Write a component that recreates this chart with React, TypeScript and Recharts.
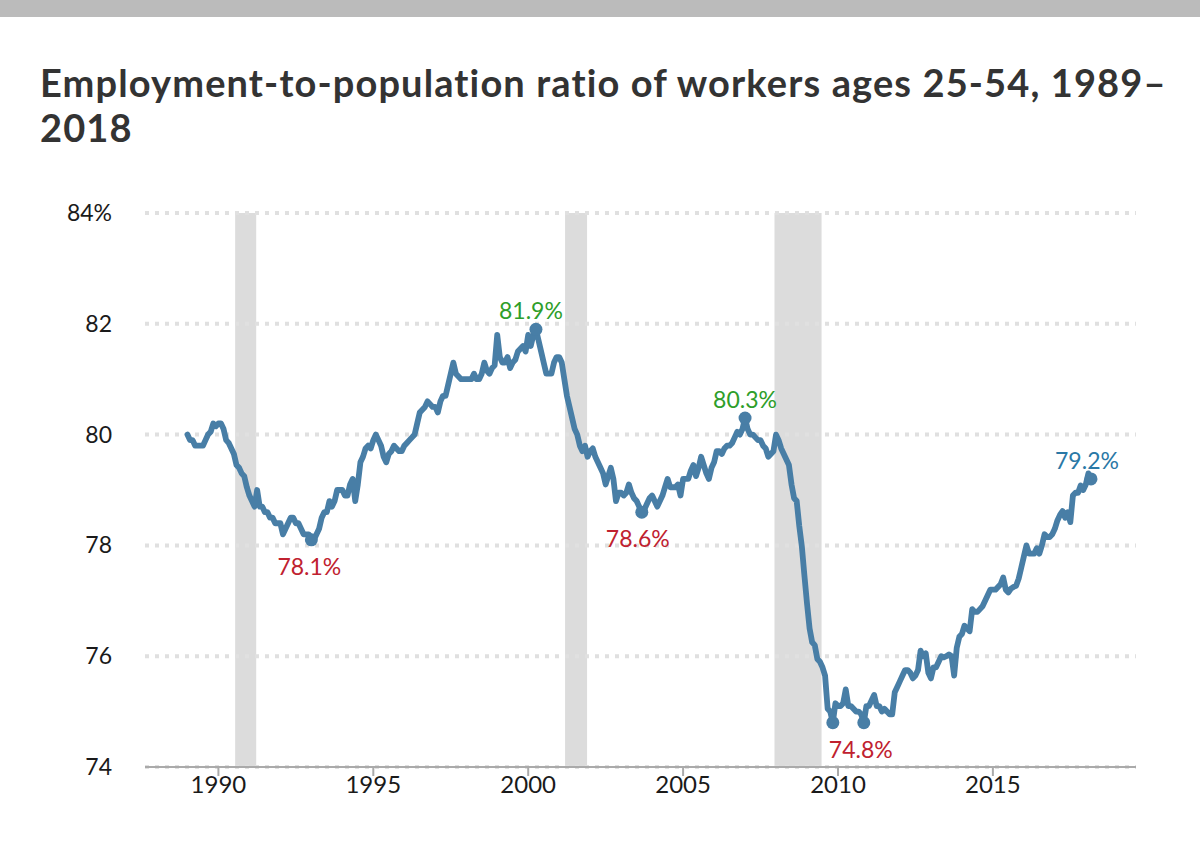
import React from 'react';
import {
  LineChart,
  Line,
  XAxis,
  YAxis,
  ReferenceArea,
  ReferenceLine,
  ReferenceDot,
} from 'recharts';

// Monthly employment-to-population ratio, ages 25-54, Jan 1989 – Mar 2018
const startYear = 1989;
const epop: number[] = [
  // 1989
  80.0, 79.9, 79.9, 79.8, 79.8, 79.8, 79.8, 79.9, 80.0, 80.05, 80.2, 80.15,
  // 1990
  80.2, 80.2, 80.1, 79.9, 79.85, 79.75, 79.65, 79.45, 79.4, 79.3, 79.25, 79.05,
  // 1991
  78.9, 78.8, 78.7, 79.0, 78.7, 78.7, 78.6, 78.6, 78.5, 78.5, 78.4, 78.4,
  // 1992
  78.4, 78.2, 78.3, 78.4, 78.5, 78.5, 78.4, 78.4, 78.3, 78.2, 78.2, 78.2,
  // 1993
  78.1, 78.1, 78.2, 78.3, 78.5, 78.6, 78.6, 78.8, 78.7, 78.8, 79.0, 79.0,
  // 1994
  79.0, 78.9, 78.9, 79.1, 79.2, 78.8, 79.1, 79.5, 79.6, 79.75, 79.8, 79.75,
  // 1995
  79.9, 80.0, 79.9, 79.8, 79.6, 79.5, 79.65, 79.7, 79.8, 79.75, 79.7, 79.7,
  // 1996
  79.8, 79.85, 79.9, 79.95, 80.0, 80.2, 80.4, 80.45, 80.5, 80.6, 80.55, 80.5,
  // 1997
  80.5, 80.4, 80.6, 80.7, 80.7, 80.9, 81.1, 81.3, 81.1, 81.05, 81.0, 81.0,
  // 1998
  81.0, 81.0, 81.0, 81.1, 81.0, 81.0, 81.1, 81.3, 81.15, 81.1, 81.2, 81.25,
  // 1999
  81.8, 81.4, 81.3, 81.3, 81.4, 81.2, 81.3, 81.35, 81.5, 81.55, 81.6, 81.5,
  // 2000
  81.8, 81.6, 81.8, 81.9, 81.7, 81.5, 81.3, 81.1, 81.1, 81.1, 81.3, 81.4,
  // 2001
  81.4, 81.3, 81.0, 80.7, 80.5, 80.3, 80.1, 80.0, 79.8, 79.7, 79.8, 79.6,
  // 2002
  79.7, 79.75, 79.6, 79.5, 79.4, 79.3, 79.1, 79.25, 79.4, 79.2, 78.8, 78.95,
  // 2003
  78.95, 78.9, 78.95, 79.1, 78.95, 78.85, 78.8, 78.7, 78.6, 78.65, 78.75, 78.85,
  // 2004
  78.9, 78.8, 78.7, 78.8, 78.9, 79.05, 79.2, 79.05, 79.05, 79.05, 79.1, 78.9,
  // 2005
  79.2, 79.2, 79.2, 79.35, 79.45, 79.25, 79.4, 79.6, 79.45, 79.3, 79.2, 79.4,
  // 2006
  79.5, 79.7, 79.7, 79.65, 79.75, 79.8, 79.8, 79.85, 79.95, 80.05, 80.0, 80.1,
  // 2007
  80.3, 80.1, 80.0, 80.0, 79.95, 79.9, 79.9, 79.8, 79.75, 79.6, 79.65, 79.7,
  // 2008
  80.0, 79.9, 79.75, 79.65, 79.55, 79.45, 79.1, 78.85, 78.8, 78.35, 77.98, 77.45,
  // 2009
  76.95, 76.5, 76.25, 76.2, 75.95, 75.9, 75.8, 75.65, 75.05, 75.0, 74.8, 75.15,
  // 2010
  75.1, 75.1, 75.15, 75.4, 75.1, 75.1, 75.05, 75.0, 75.0, 74.95, 74.8, 75.1,
  // 2011
  75.1, 75.2, 75.3, 75.1, 75.1, 75.0, 75.05, 75.0, 74.95, 74.95, 75.35, 75.45,
  // 2012
  75.55, 75.65, 75.75, 75.75, 75.7, 75.6, 75.65, 75.75, 76.1, 76.0, 76.05, 75.7,
  // 2013
  75.6, 75.8, 75.8, 75.9, 76.0, 75.98, 76.0, 76.03, 76.0, 75.65, 76.15, 76.35,
  // 2014
  76.4, 76.55, 76.5, 76.45, 76.85, 76.8, 76.8, 76.85, 76.9, 77.0, 77.1, 77.2,
  // 2015
  77.2, 77.2, 77.25, 77.3, 77.42, 77.2, 77.15, 77.22, 77.25, 77.27, 77.4, 77.6,
  // 2016
  77.8, 78.0, 77.85, 77.85, 77.85, 77.95, 77.85, 78.0, 78.2, 78.15, 78.15, 78.2,
  // 2017
  78.3, 78.45, 78.55, 78.62, 78.5, 78.6, 78.42, 78.9, 78.95, 78.95, 79.08, 79.0,
  // 2018
  79.1, 79.3, 79.2,
];

const xTicks = [1990, 1995, 2000, 2005, 2010, 2015];
const yTicks = [74, 76, 78, 80, 82, 84];

// Recessions (start, end) in fractional years
const recessions: [number, number][] = [
  [1990.54, 1991.22],
  [2001.19, 2001.9],
  [2007.95, 2009.47],
];

const RED = '#c0212f';
const GREEN = '#2e9e2a';
const BLUE = '#2a78a6';
const annotations: { year: number; month: number; text: string; color: string; side: 'above' | 'below'; dx: number; showLabel: boolean }[] = [
  { year: 1993, month: 0, text: '78.1%', color: RED, side: 'below', dx: -2, showLabel: true },
  { year: 2000, month: 3, text: '81.9%', color: GREEN, side: 'above', dx: -5, showLabel: true },
  { year: 2003, month: 8, text: '78.6%', color: RED, side: 'below', dx: -4, showLabel: true },
  { year: 2007, month: 0, text: '80.3%', color: GREEN, side: 'above', dx: 0, showLabel: true },
  { year: 2009, month: 10, text: '74.8%', color: RED, side: 'below', dx: 0, showLabel: false },
  { year: 2010, month: 10, text: '74.8%', color: RED, side: 'below', dx: -3, showLabel: true },
  { year: 2018, month: 2, text: '79.2%', color: BLUE, side: 'above', dx: -4, showLabel: true },
];

const data = epop.map((v, i) => ({ t: startYear + i / 12, v }));

const LINE = '#487ea6';
const FONT = 'Lato, "Open Sans", sans-serif';

const YTick = (props: any) => {
  const { x, y, payload } = props;
  const label = payload.value === 84 ? '84%' : String(payload.value);
  return (
    <text x={x} y={y} dy={8} textAnchor="end" fill="#1a1a1a" fontSize={23} fontFamily={FONT}>
      {label}
    </text>
  );
};

const XTick = (props: any) => {
  const { x, y, payload } = props;
  return (
    <text x={x} y={y} dy={17} textAnchor="middle" fill="#1a1a1a" fontSize={24} fontFamily={FONT}>
      {payload.value}
    </text>
  );
};

export default function App() {
  return (
    <div
      style={{
        position: 'absolute',
        left: 0,
        top: 0,
        width: 1200,
        height: 864,
        background: '#ffffff',
        overflow: 'hidden',
        fontFamily: FONT,
      }}
    >
      <div style={{ position: 'absolute', left: 0, top: 0, width: 1200, height: 17, background: '#bbbbbb' }} />
      <div
        style={{
          position: 'absolute',
          left: 40,
          top: 60,
          width: 1150,
          fontSize: 38,
          lineHeight: '45px',
          fontWeight: 700,
          letterSpacing: 1.12,
          color: '#333333',
          fontFamily: FONT,
        }}
      >
        <div style={{ whiteSpace: 'nowrap' }}>Employment-to-population ratio of workers ages 25-54, 1989–</div>
        <div>2018</div>
      </div>
      <div style={{ position: 'absolute', left: 0, top: 0 }}>
        <LineChart
          width={1200}
          height={864}
          data={data}
          margin={{ top: 213, right: 64, bottom: 67, left: 0 }}
        >
          <XAxis
            dataKey="t"
            type="number"
            domain={[1987.63, 2019.62]}
            ticks={xTicks}
            allowDataOverflow
            axisLine={{ stroke: '#aaaaaa', strokeWidth: 2 }}
            tickLine={{ stroke: '#aaaaaa', strokeWidth: 2 }}
            tickSize={9}
            tickMargin={0}
            height={30}
            tick={<XTick />}
            interval={0}
          />
          <YAxis
            type="number"
            domain={[74, 84]}
            ticks={yTicks}
            width={145}
            axisLine={false}
            tickLine={false}
            tickSize={0}
            tickMargin={33}
            tick={<YTick />}
            interval={0}
          />
          {recessions.map(([a, b], i) => (
            <ReferenceArea key={`r${i}`} x1={a} x2={b} y1={74} y2={84} fill="#dcdcdc" fillOpacity={1} stroke="none" />
          ))}
          {yTicks.map((t) => (
            <ReferenceLine key={`g${t}`} y={t} stroke="#e0e0e0" strokeWidth={4} strokeDasharray="4 6" />
          ))}
          <Line
            type="linear"
            dataKey="v"
            stroke={LINE}
            strokeWidth={5.8}
            dot={false}
            activeDot={false}
            strokeLinejoin="round"
            strokeLinecap="round"
            isAnimationActive={false}
          />
          {annotations.map((a, i) => {
            const idx = (a.year - startYear) * 12 + a.month;
            const pt = data[idx];
            return (
              <ReferenceDot
                key={`d${i}`}
                x={pt.t}
                y={pt.v}
                r={6.5}
                fill={LINE}
                stroke="none"
                label={
                  a.showLabel
                    ? (p: any) => {
                        const vb = p.viewBox || {};
                        const cx = vb.x + vb.width / 2;
                        const cy = vb.y + vb.height / 2;
                        const y = a.side === 'above' ? cy - 10 : cy + 35;
                        return (
                          <text
                            x={cx + a.dx}
                            y={y}
                            textAnchor="middle"
                            fill={a.color}
                            fontSize={23}
                            fontFamily={FONT}
                          >
                            {a.text}
                          </text>
                        );
                      }
                    : undefined
                }
              />
            );
          })}
        </LineChart>
      </div>
    </div>
  );
}
